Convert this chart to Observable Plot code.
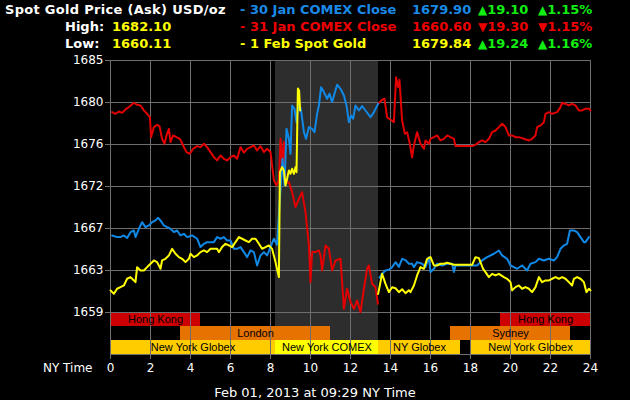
<!DOCTYPE html>
<html><head><meta charset="utf-8">
<script src="https://cdn.jsdelivr.net/npm/d3@7"></script>
<script src="https://cdn.jsdelivr.net/npm/@observablehq/plot@0.6"></script>
<style>
html,body{margin:0;padding:0;background:#000;}
#wrap{position:relative;width:630px;height:400px;overflow:hidden;background:#000;font-family:"DejaVu Sans",sans-serif;}
#wrap svg{position:absolute;left:0;top:0;}
.t{position:absolute;white-space:nowrap;font-weight:bold;font-size:13px;line-height:13px;}
.n{position:absolute;white-space:nowrap;font-size:12px;line-height:12px;color:#fff;}
.tri{font-size:12px;}
</style></head><body><div id="wrap"></div>
<script>
// ---------- data ----------
const titleText = "Spot Gold Price (Ask) USD/oz";
const highValue = "1682.10";
const lowValue = "1660.11";
const legendLabels = ["30 Jan COMEX Close", "31 Jan COMEX Close", "1 Feb Spot Gold"];
const legendValues = ["1679.90", "1660.60", "1679.84"];
const legendChanges = ["19.10", "19.30", "19.24"];
const legendPcts = ["1.15%", "1.15%", "1.16%"];
const legendDirs = ["up", "down", "up"];
const footerText = "Feb 01, 2013 at 09:29 NY Time";
const xAxisTitle = "NY Time";

const xTicks = [0, 2, 4, 6, 8, 10, 12, 14, 16, 18, 20, 22, 24];
const yTickLabels = ["1659", "1663", "1667", "1672", "1676", "1680", "1685"];
const yTickBottom = 1659, yTickTop = 1685;

const sessionNames = ["Hong Kong", "London", "New York Globex", "New York COMEX", "NY Globex", "New York Globex", "Sydney", "Hong Kong"];
const sessionStart = [0, 3.5, 0, 8.25, 13.4, 18, 17, 19.5];
const sessionEnd = [4.5, 11, 8.25, 13.4, 17.5, 24, 23, 24];
const sessionLane = [0, 1, 2, 2, 2, 2, 1, 0];
const sessionKind = ["asia", "europe", "globex", "comex", "globex", "globex", "europe", "asia"];

// 31 Jan COMEX Close (red)
const redHours = [0.08,0.25,0.42,0.58,0.75,0.92,1.17,1.33,1.5,1.67,1.83,1.97,2.03,2.17,2.33,2.45,2.58,2.7,2.8,2.92,3.0,3.13,3.3,3.47,3.63,3.8,3.97,4.13,4.33,4.5,4.67,4.83,5.0,5.17,5.33,5.5,5.67,5.83,6.0,6.17,6.33,6.5,6.67,6.83,7.0,7.17,7.33,7.5,7.67,7.83,8.0,8.08,8.17,8.3,8.42,8.5,8.58,8.67,8.75,8.92,9.08,9.25,9.42,9.58,9.75,9.92,10.0,10.08,10.25,10.42,10.5,10.58,10.75,10.92,11.08,11.25,11.5,11.67,11.83,12.0,12.17,12.33,12.5,12.67,12.83,12.92,13.08,13.25,13.37,13.375,
  13.38,13.58,13.7,13.83,13.92,14.08,14.17,14.28,14.38,14.45,14.58,14.72,14.83,14.95,15.08,15.17,15.33,15.5,15.67,15.75,15.92,16.0,16.17,16.33,16.5,16.67,16.83,17.0,17.17,17.25,18.08,18.25,18.42,18.58,18.75,18.92,19.08,19.25,19.42,19.58,19.75,19.92,20.08,20.25,20.42,20.67,20.92,21.08,21.25,21.33,21.5,21.67,21.75,21.92,22.08,22.33,22.5,22.58,22.75,22.92,23.08,23.25,23.42,23.58,23.75,23.92,24.0];
const redValues = [1679.67,1679.50,1679.74,1679.60,1679.95,1680.19,1680.64,1680.43,1680.36,1679.85,1679.50,1679.16,1677.09,1678.13,1678.37,1678.23,1676.92,1676.41,1677.27,1677.95,1676.58,1677.27,1677.09,1676.92,1676.23,1675.55,1675.37,1675.89,1676.17,1676.06,1676.41,1676.06,1675.55,1675.03,1674.69,1675.20,1674.86,1674.69,1675.03,1675.20,1674.86,1676.06,1675.50,1675.89,1676.06,1676.23,1675.72,1676.17,1675.55,1675.89,1675.55,1674.17,1672.62,1672.11,1672.62,1676.92,1674.52,1676.58,1672.45,1672.45,1671.42,1669.87,1670.73,1671.42,1669.36,1665.92,1662.13,1665.23,1665.23,1665.40,1664.89,1663.34,1665.92,1665.57,1663.34,1664.37,1664.54,1659.38,1661.45,1660.07,1659.38,1660.24,1659.04,1661.45,1663.51,1663.85,1661.96,1661.60,1659.90,null,
  1680.53,1680.95,1681.05,1679.15,1678.99,1678.80,1678.64,1683.28,1682.25,1683.00,1678.80,1677.44,1677.60,1676.57,1675.00,1676.23,1677.61,1676.41,1675.89,1676.75,1676.41,1676.92,1677.09,1677.27,1676.75,1676.92,1677.27,1677.09,1676.92,1676.17,1676.17,1676.30,1676.58,1676.75,1676.58,1676.92,1677.61,1677.78,1678.13,1678.47,1678.13,1677.27,1677.27,1677.09,1677.09,1676.92,1676.75,1676.92,1677.27,1678.13,1678.30,1678.64,1679.50,1679.67,1679.50,1679.67,1680.19,1680.64,1680.53,1680.36,1680.53,1680.36,1679.85,1679.85,1680.02,1680.02,1679.85];

// 30 Jan COMEX Close (blue)
const blueHours = [0.08,0.33,0.5,0.67,0.83,1.0,1.17,1.25,1.42,1.58,1.75,1.92,2.08,2.25,2.37,2.5,2.67,2.83,3.0,3.17,3.33,3.5,3.67,3.83,4.08,4.33,4.5,4.67,4.83,5.0,5.17,5.33,5.5,5.67,5.83,6.0,6.17,6.33,6.5,6.67,6.83,7.0,7.17,7.33,7.5,7.67,7.83,8.0,8.17,8.33,8.5,8.6,8.7,8.8,8.92,9.0,9.08,9.2,9.3,9.42,9.53,9.67,9.78,9.92,10.08,10.2,10.33,10.42,10.53,10.67,10.83,10.95,11.08,11.2,11.33,11.5,11.67,11.8,11.92,12.03,12.13,12.25,12.42,12.58,12.75,13.0,13.17,13.38,13.4,
  13.45,13.58,13.75,13.92,14.08,14.25,14.42,14.58,14.75,14.92,15.08,15.17,15.33,15.58,15.75,15.92,16.0,16.17,16.33,16.58,16.83,17.08,17.17,17.25,18.17,18.33,18.58,18.83,19.17,19.42,19.58,19.83,20.0,20.17,20.33,20.58,20.83,21.0,21.25,21.42,21.67,21.92,22.17,22.33,22.5,22.67,22.83,22.97,23.17,23.33,23.5,23.67,23.75,23.92];
const blueValues = [1666.95,1666.78,1666.78,1666.95,1666.68,1667.29,1667.46,1666.78,1667.64,1668.32,1667.81,1667.98,1668.32,1668.50,1668.77,1668.50,1667.98,1667.81,1667.64,1667.29,1667.46,1666.95,1667.12,1666.78,1666.95,1666.61,1665.75,1666.09,1666.26,1666.26,1666.26,1666.78,1666.61,1666.78,1666.43,1666.43,1665.57,1665.57,1665.75,1665.23,1664.71,1665.40,1665.23,1663.85,1664.89,1665.23,1664.89,1665.75,1666.61,1666.00,1671.76,1674.86,1672.11,1677.95,1676.92,1675.37,1680.36,1680.02,1678.64,1680.71,1679.85,1677.61,1676.92,1678.13,1677.95,1677.61,1679.50,1680.36,1682.25,1681.74,1681.05,1681.57,1680.71,1681.57,1682.50,1682.08,1681.39,1680.36,1678.64,1679.33,1678.99,1680.36,1679.84,1680.30,1679.84,1679.15,1679.67,1680.53,null,
  1662.60,1663.00,1663.33,1663.40,1663.68,1664.19,1663.70,1664.54,1664.40,1664.03,1664.03,1663.68,1664.20,1664.03,1663.68,1664.71,1663.17,1663.51,1664.03,1663.85,1664.03,1664.03,1663.17,1663.85,1663.85,1663.85,1664.37,1664.71,1665.06,1665.40,1664.89,1664.54,1663.85,1663.68,1663.51,1663.85,1663.34,1664.03,1664.20,1664.54,1664.37,1664.54,1664.37,1664.71,1665.57,1665.92,1666.09,1667.46,1667.46,1667.29,1666.78,1666.26,1666.26,1666.78];

// 1 Feb Spot Gold (yellow)
const yellowHours = [0.0,0.17,0.33,0.5,0.67,0.83,1.0,1.17,1.25,1.33,1.5,1.67,1.83,2.0,2.17,2.33,2.5,2.58,2.75,2.92,3.08,3.25,3.42,3.58,3.75,3.92,4.0,4.17,4.33,4.5,4.67,4.83,5.0,5.17,5.33,5.42,5.58,5.75,5.92,6.08,6.25,6.42,6.58,6.75,6.92,7.08,7.25,7.42,7.58,7.75,7.92,8.08,8.25,8.42,8.47,8.58,8.67,8.75,8.83,8.92,9.0,9.08,9.17,9.25,9.3,9.37,9.43,9.48,9.5,
  13.38,13.58,13.75,13.92,14.08,14.25,14.42,14.58,14.75,14.92,15.0,15.17,15.33,15.5,15.67,15.83,16.0,16.17,16.33,16.5,16.67,16.83,17.0,17.17,18.08,18.25,18.42,18.53,18.63,18.75,18.92,19.08,19.25,19.42,19.67,19.83,20.0,20.08,20.25,20.42,20.58,20.75,20.92,21.08,21.25,21.42,21.58,21.75,21.92,22.08,22.25,22.42,22.58,22.75,22.92,23.08,23.17,23.33,23.5,23.67,23.8,23.92,24.0];
const yellowValues = [1661.28,1660.93,1661.45,1661.62,1661.79,1662.48,1662.65,1662.31,1662.13,1663.68,1663.34,1663.34,1663.68,1664.03,1664.37,1664.20,1663.51,1664.37,1664.54,1664.89,1665.57,1665.06,1664.71,1664.54,1664.20,1664.54,1665.06,1664.71,1664.89,1665.23,1665.40,1665.23,1665.57,1665.57,1665.57,1665.23,1665.75,1666.09,1665.92,1665.75,1666.26,1666.78,1666.61,1666.43,1666.26,1666.61,1666.61,1666.09,1665.57,1665.75,1665.92,1665.57,1664.20,1662.65,1673.48,1674.00,1673.66,1672.11,1672.80,1673.66,1673.31,1673.83,1673.31,1674.00,1673.48,1682.10,1681.90,1679.84,null,
  1660.90,1663.00,1661.96,1661.10,1661.60,1661.50,1661.10,1661.40,1661.00,1661.30,1661.10,1661.79,1662.82,1663.68,1663.51,1664.54,1664.71,1663.85,1663.85,1664.03,1664.03,1664.13,1664.03,1663.92,1663.92,1664.71,1664.61,1664.03,1663.51,1663.17,1662.65,1662.99,1662.82,1662.99,1662.65,1662.48,1662.13,1661.28,1661.62,1661.79,1661.45,1661.62,1661.45,1661.10,1661.62,1662.65,1662.13,1662.31,1662.31,1662.48,1662.65,1662.48,1662.65,1662.48,1662.13,1661.79,1662.48,1662.65,1662.48,1662.13,1661.10,1661.45,1661.28];

// ---------- styles ----------
const lineColors = {red: "#e20000", blue: "#1088e6", yellow: "#ffff00"};
const textColors = ["#1a8ae8", "#ee0000", "#ffff00"];
const dirColor = {up: "#11ee11", down: "#ee0000"};
const sessionFill = {asia: "#cc0000", europe: "#e67300", globex: "#ffcc00", comex: "#ffff00"};
const gridColor = "#6e6e6e";

// ---------- scales helpers ----------
const step = (yTickTop - yTickBottom) / (yTickLabels.length - 1);
const yTicks = yTickLabels.map((_, i) => yTickBottom + i * step);
const laneTop = r => yTickBottom - r * step / 3;
const laneBottom = r => yTickBottom - (r + 1) * step / 3;

const sessions = sessionNames.map((name, i) => ({
  name, start: sessionStart[i], end: sessionEnd[i], lane: sessionLane[i], kind: sessionKind[i]
}));
const comex = sessions.filter(d => d.kind === "comex");

const toRows = (hours, values) => hours.map((h, i) => ({h, v: values[i]}));
const redRows = toRows(redHours, redValues);
const blueRows = toRows(blueHours, blueValues);
const yellowRows = toRows(yellowHours, yellowValues);

const chart = Plot.plot({
  width: 630,
  height: 400,
  marginTop: 60,
  marginBottom: 46,
  marginLeft: 110,
  marginRight: 40,
  style: {background: "#000", color: "#fff", fontFamily: "DejaVu Sans, sans-serif", fontSize: "12px", overflow: "visible"},
  x: {domain: [0, 24]},
  y: {domain: [yTickBottom - step, yTickTop]},
  marks: [
    Plot.rect(comex, {x1: "start", x2: "end", y1: laneTop(2), y2: yTickTop, fill: "#2d2d2d"}),
    Plot.rect(sessions, {x1: "start", x2: "end", y1: d => laneTop(d.lane), y2: d => laneBottom(d.lane), fill: d => sessionFill[d.kind]}),
    Plot.gridX(xTicks, {stroke: gridColor, strokeOpacity: 1}),
    Plot.gridY(yTicks, {stroke: gridColor, strokeOpacity: 1}),
    Plot.frame({stroke: gridColor}),
    Plot.text(sessions, {
      x: d => (d.start + d.end) / 2, y: d => (laneTop(d.lane) + laneBottom(d.lane)) / 2,
      text: "name", fill: "#000", fontSize: 11, fontFamily: "Liberation Sans, Arial, sans-serif"
    }),
    Plot.line(redRows, {x: "h", y: "v", stroke: lineColors.red, strokeWidth: 2}),
    Plot.line(blueRows, {x: "h", y: "v", stroke: lineColors.blue, strokeWidth: 2}),
    Plot.line(yellowRows, {x: "h", y: "v", stroke: lineColors.yellow, strokeWidth: 2}),
    Plot.axisX(xTicks, {tickSize: 5, tickPadding: 4, stroke: gridColor, fill: "#fff", fontSize: 12, label: null}),
    Plot.axisY(yTicks, {tickSize: 5, tickPadding: 2, stroke: gridColor, fill: "#fff", fontSize: 12, label: null,
      tickFormat: d => yTickLabels[yTicks.indexOf(d)]})
  ]
});

const wrap = document.getElementById("wrap");
wrap.appendChild(chart);

function addText(cls, txt, left, top, color) {
  const el = document.createElement("div");
  el.className = cls;
  el.textContent = txt;
  el.style.left = left + "px";
  el.style.top = top + "px";
  el.style.color = color;
  wrap.appendChild(el);
  return el;
}
const rowTops = [3, 20, 37];
const title = addText("t", titleText, 5, rowTops[0], "#fff");
title.style.letterSpacing = "0.3px";
addText("t", "High:", 65, rowTops[1], "#fff");
addText("t", highValue, 112, rowTops[1], "#ffff00");
addText("t", "Low:", 65, rowTops[2], "#fff");
addText("t", lowValue, 112, rowTops[2], "#ffff00");
legendLabels.forEach((lab, i) => {
  addText("t", "- " + lab, 240, rowTops[i], textColors[i]);
  addText("t", legendValues[i], 412, rowTops[i], textColors[i]);
  const tri = legendDirs[i] === "up" ? "\u25B2" : "\u25BC";
  const c = dirColor[legendDirs[i]];
  const a = addText("t", "", 478, rowTops[i], c);
  a.innerHTML = '<span class="tri">' + tri + '</span>' + legendChanges[i];
  const b = addText("t", "", 538, rowTops[i], c);
  b.innerHTML = '<span class="tri">' + tri + '</span>' + legendPcts[i];
});
addText("n", xAxisTitle, 43, 362, "#fff");
const foot = addText("n", footerText, 0, 386, "#fff");
foot.style.width = "630px";
foot.style.textAlign = "center";
foot.style.fontSize = "13px";
foot.style.lineHeight = "13px";
</script></body></html>
